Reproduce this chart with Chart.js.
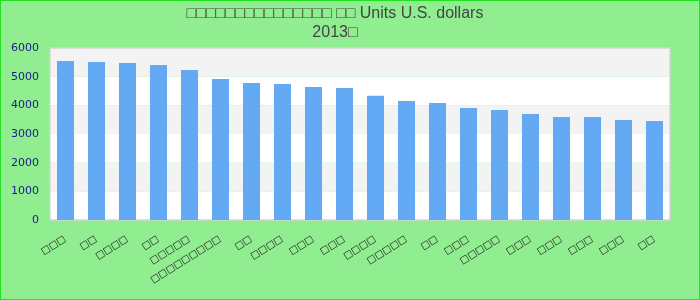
<!DOCTYPE html>
<html>
<head>
<meta charset="utf-8">
<script src="https://cdn.jsdelivr.net/npm/chart.js@4/dist/chart.umd.min.js"></script>
<style>
html,body{margin:0;padding:0;background:#90EE90;}
#wrap{width:700px;height:300px;position:relative;}
</style>
</head>
<body>
<div id="wrap"><canvas id="c" width="700" height="300"></canvas></div>
<script>
// Original glyphs were not renderable in the reference (shown as empty boxes)
const titleLines = ['□□□□□□□□□□□□□□□ □□ Units U.S. dollars', '2013□'];
const categories = ['☐☐☐','☐☐','☐☐☐☐','☐☐','☐☐☐☐☐','☐☐☐☐☐☐☐☐☐','☐☐','☐☐☐☐','☐☐☐','☐☐☐',
                    '☐☐☐☐','☐☐☐☐☐','☐☐','☐☐☐','☐☐☐☐☐','☐☐☐','☐☐☐','☐☐☐','☐☐☐','☐☐'];
const values = [5550, 5515, 5480, 5410, 5235, 4920, 4780, 4745, 4640, 4605,
                4330, 4150, 4085, 3910, 3840, 3700, 3595, 3595, 3490, 3455];
const yTicks = [0, 1000, 2000, 3000, 4000, 5000, 6000];

const bgPlugin = {
  id: 'bg',
  beforeDraw(chart) {
    const ctx = chart.ctx, a = chart.chartArea, y = chart.scales.y;
    ctx.save();
    ctx.fillStyle = '#90EE90';
    ctx.fillRect(0, 0, chart.width, chart.height);
    for (let i = 0; i < yTicks.length - 1; i++) {
      const top = y.getPixelForValue(yTicks[i + 1]);
      const bot = y.getPixelForValue(yTicks[i]);
      ctx.fillStyle = (i % 2 === 0) ? '#ffffff' : '#f3f3f3';
      ctx.fillRect(a.left, top, a.right - a.left, bot - top);
    }
    ctx.strokeStyle = '#d4d4d4';
    ctx.lineWidth = 1.5;
    ctx.strokeRect(a.left, a.top, a.right - a.left, a.bottom - a.top);
    ctx.strokeStyle = '#22e022';
    ctx.lineWidth = 1;
    ctx.strokeRect(0.5, 0.5, chart.width - 1, chart.height - 1);
    ctx.restore();
  }
};

new Chart(document.getElementById('c'), {
  type: 'bar',
  data: {
    labels: categories,
    datasets: [{
      data: values,
      backgroundColor: '#63a9f4',
      borderWidth: 0,
      barPercentage: 0.55,
      categoryPercentage: 1.0
    }]
  },
  options: {
    responsive: false,
    animation: false,
    layout: { padding: { left: 0, right: 30, top: 1, bottom: 0 } },
    plugins: {
      legend: { display: false },
      tooltip: { enabled: false },
      title: {
        display: true,
        text: titleLines,
        color: '#444444',
        font: { family: 'Liberation Sans, Arial, sans-serif', size: 16, weight: 'normal', lineHeight: 1.2 },
        padding: { top: 3, bottom: 5.6 }
      }
    },
    scales: {
      x: {
        grid: { display: false, drawTicks: false },
        border: { display: false },
        afterFit(s) { s.height = 80; },
        afterCalculateLabelRotation(s) { s.labelRotation = 32; },
        ticks: {
          color: '#222222',
          autoSkip: false,
          minRotation: 32,
          maxRotation: 32,
          padding: 14,
          font: { family: 'DejaVu Sans', size: 10 }
        }
      },
      y: {
        min: 0,
        max: 6000,
        grid: { display: false, drawTicks: false },
        border: { display: false },
        afterFit(s) { s.width = 50; },
        afterBuildTicks(s) { s.ticks = yTicks.map(v => ({ value: v })); },
        ticks: {
          color: '#1a1a8a',
          padding: 11,
          font: { family: 'DejaVu Sans', size: 11 },
          callback: (v) => String(v)
        }
      }
    }
  },
  plugins: [bgPlugin]
});
</script>
</body>
</html>
